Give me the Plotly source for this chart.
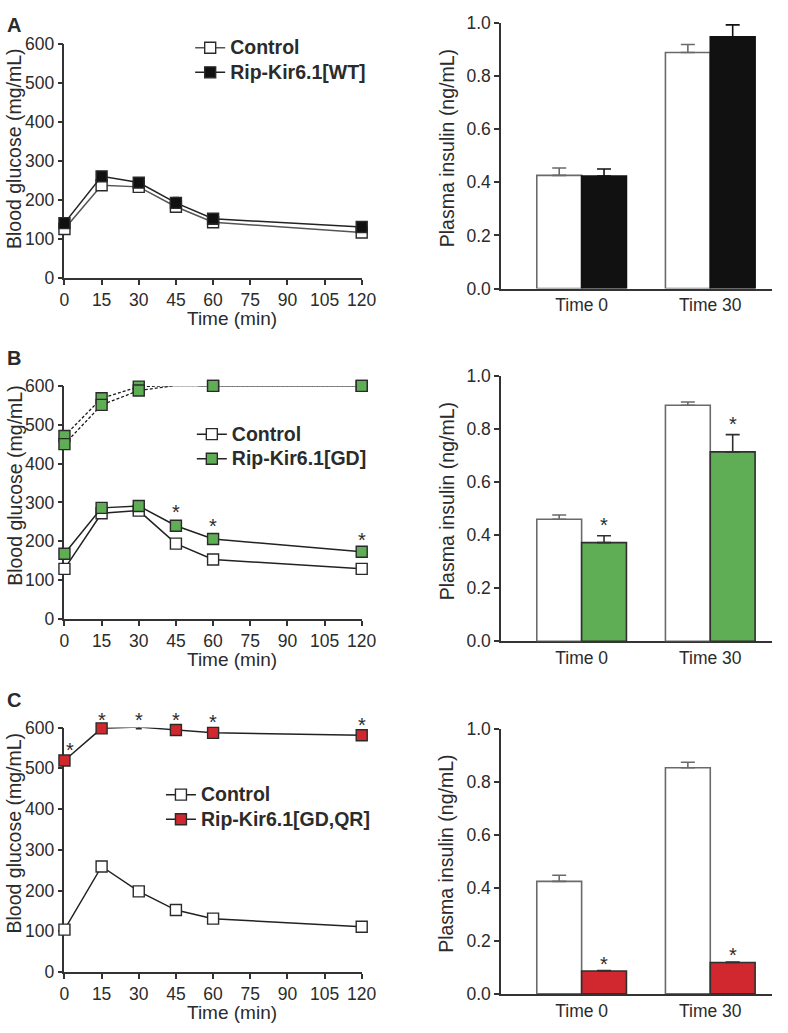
import plotly.graph_objects as go

W, H = 788, 1033
FONT = "Liberation Sans, Arial, sans-serif"
TXT = "#2b2b2b"

# ---------------- data ----------------
time_min = [0, 15, 30, 45, 60, 120]
time_ticks = [0, 15, 30, 45, 60, 75, 90, 105, 120]
bar_cats = ["Time 0", "Time 30"]

# Panel A
a_ctrl = [126, 238, 234, 183, 143, 117]
a_ctrl_err = [6, 7, 6, 6, 5, 5]
a_wt = [141, 261, 245, 193, 152, 131]
a_wt_err = [7, 12, 9, 14, 7, 7]
a_ins_ctrl = [0.426, 0.889]
a_ins_ctrl_err = [0.028, 0.030]
a_ins_wt = [0.424, 0.948]
a_ins_wt_err = [0.026, 0.045]

# Panel B
b_ctrl = [129, 272, 279, 194, 153, 129]
b_ctrl_err = [4, 4, 4, 4, 4, 4]
b_gd = [168, 286, 291, 240, 206, 173]
b_gd_err = [6, 5, 5, 9, 8, 5]
b_gd_hi1 = [471, 568, 598, 601, 600, 600]
b_gd_hi2 = [450, 551, 588, 601, 600, 600]
b_line_star_idx = [3, 4, 5]
b_ins_ctrl = [0.460, 0.890]
b_ins_ctrl_err = [0.016, 0.012]
b_ins_gd = [0.372, 0.714]
b_ins_gd_err = [0.026, 0.065]

# Panel C
c_ctrl = [104, 259, 198, 152, 131, 111]
c_ctrl_err = [3, 4, 4, 3, 3, 3]
c_qr = [519, 598, 601, 594, 587, 581]
c_qr_err = [6, 4, 4, 5, 6, 6]
c_line_star_idx = [0, 1, 2, 3, 4, 5]
c_ins_ctrl = [0.424, 0.852]
c_ins_ctrl_err = [0.023, 0.021]
c_ins_qr = [0.086, 0.118]
c_ins_qr_err = [0.002, 0.002]

GREEN = "#5fae55"
RED = "#d0282e"
BLACK = "#111111"

# --------------- layout helpers (pixels -> paper) ---------------
def px_x(p):
    return p / W

def px_y(p):
    return 1 - p / H

fig = go.Figure()

panels = [
    dict(letter="A", ly=2, line_px=(35, 273.3), bar_px=(13.3, 284.0),
         ytitle_line=141.5, ytitle_bar=141.5, xtitle=315),
    dict(letter="B", ly=342, line_px=(383.3, 621.0), bar_px=(373.3, 643.7),
         ytitle_line=485, ytitle_bar=501.5, xtitle=662),
    dict(letter="C", ly=690, line_px=(731.7, 981.0), bar_px=(732.7, 1003.3),
         ytitle_line=839.5, ytitle_bar=861, xtitle=1022),
]

LINE_X = (61, 366)
BAR_X = (509, 787)
Y_MAX = 600

layout = {}
annotations = []

for i, p in enumerate(panels):
    la = 2 * i + 1
    ba = 2 * i + 2
    lx = "xaxis" if la == 1 else f"xaxis{la}"
    ly_ = "yaxis" if la == 1 else f"yaxis{la}"
    bx = f"xaxis{ba}"
    by = f"yaxis{ba}"
    common_ax = dict(showline=True, linecolor="#333333", linewidth=1.5,
                     ticks="outside", ticklen=5, tickwidth=1.5, tickcolor="#333333",
                     showgrid=False, zeroline=False,
                     tickfont=dict(family=FONT, size=17.5, color=TXT),
                     layer="below traces")
    layout[lx] = dict(common_ax, domain=[px_x(LINE_X[0]), px_x(LINE_X[1])],
                      range=[0, 120], tickvals=time_ticks,
                      anchor="y" if la == 1 else f"y{la}")
    layout[ly_] = dict(common_ax, domain=[px_y(p["line_px"][1]), px_y(p["line_px"][0])],
                       range=[0, Y_MAX], tickvals=[0, 100, 200, 300, 400, 500, 600],
                       anchor="x" if la == 1 else f"x{la}")
    layout[bx] = dict(common_ax, domain=[px_x(BAR_X[0]), px_x(BAR_X[1])],
                      type="category", range=[-0.626, 1.48], ticks="",
                      anchor=f"y{ba}")
    layout[by] = dict(common_ax, domain=[px_y(p["bar_px"][1]), px_y(p["bar_px"][0])],
                      range=[0, 1.0], tickvals=[0, 0.2, 0.4, 0.6, 0.8, 1.0],
                      tickformat=".1f", anchor=f"x{ba}")

    annotations.append(dict(text=f"<b>{p['letter']}</b>", xref="paper", yref="paper",
                            x=px_x(0), y=px_y(p["ly"]), xanchor="left", yanchor="top",
                            showarrow=False, font=dict(family=FONT, size=20, color=TXT)))
    annotations.append(dict(text="Blood glucose (mg/mL)", xref="paper", yref="paper",
                            x=px_x(9.5), y=px_y(p["ytitle_line"]), textangle=-90,
                            xanchor="center", yanchor="middle", showarrow=False,
                            font=dict(family=FONT, size=19.5, color=TXT)))
    annotations.append(dict(text="Plasma insulin (ng/mL)", xref="paper", yref="paper",
                            x=px_x(453), y=px_y(p["ytitle_bar"]), textangle=-90,
                            xanchor="center", yanchor="middle", showarrow=False,
                            font=dict(family=FONT, size=19.5, color=TXT)))
    annotations.append(dict(text="Time (min)", xref="paper", yref="paper",
                            x=px_x(233), y=px_y(p["xtitle"]),
                            xanchor="center", yanchor="middle", showarrow=False,
                            font=dict(family=FONT, size=19, color=TXT)))


def line_trace(x, y, err, name, fill, ax, legend, showlegend=True, dash="solid",
               linecolor="#222222", lw=1.5):
    xa = "x" if ax == 1 else f"x{ax}"
    ya = "y" if ax == 1 else f"y{ax}"
    return go.Scatter(
        x=x, y=y, name=name, mode="lines+markers", xaxis=xa, yaxis=ya,
        legend=legend, showlegend=showlegend, cliponaxis=False,
        line=dict(color=linecolor, width=lw, dash=dash),
        marker=dict(symbol="square", size=11, color=fill,
                    line=dict(color="#2a2a2a", width=1.4)),
        error_y=None if err is None else dict(type="data", array=err, visible=True,
                                              color="#2a2a2a", thickness=1.3, width=3),
    )


def bar_trace(y, err, name, fill, outline, ax):
    return go.Bar(
        x=bar_cats, y=y, name=name, xaxis=f"x{ax}", yaxis=f"y{ax}", showlegend=False,
        marker=dict(color=fill, line=dict(color=outline, width=1.6)),
        error_y=dict(type="data", array=err, arrayminus=[0] * len(err), symmetric=False,
                     color=outline, thickness=1.6, width=7),
    )


def leg_name(s):
    return f"<b><span style='font-size:19.5px'>{s}</span></b>"

# Panel A
fig.add_trace(line_trace(time_min, a_ctrl, a_ctrl_err, leg_name("Control"), "white", 1, "legend",
                         linecolor="#555555"))
fig.add_trace(line_trace(time_min, a_wt, a_wt_err, leg_name("Rip-Kir6.1[WT]"), BLACK, 1, "legend"))
fig.add_trace(bar_trace(a_ins_ctrl, a_ins_ctrl_err, "Control", "white", "#6a6a6a", 2))
fig.add_trace(bar_trace(a_ins_wt, a_ins_wt_err, "Rip-Kir6.1[WT]", BLACK, "#111111", 2))

# Panel B
fig.add_trace(line_trace(time_min, b_gd_hi1, None, "GD high 1", GREEN, 3, "legend2",
                         showlegend=False, dash="3px,2px", linecolor="#1a1a1a", lw=1.3))
fig.add_trace(line_trace(time_min, b_gd_hi2, None, "GD high 2", GREEN, 3, "legend2",
                         showlegend=False, dash="3px,2px", linecolor="#1a1a1a", lw=1.3))
fig.add_trace(line_trace(time_min, b_ctrl, b_ctrl_err, leg_name("Control"), "white", 3, "legend2"))
fig.add_trace(line_trace(time_min, b_gd, b_gd_err, leg_name("Rip-Kir6.1[GD]"), GREEN, 3, "legend2"))
fig.add_trace(bar_trace(b_ins_ctrl, b_ins_ctrl_err, "Control", "white", "#6a6a6a", 4))
fig.add_trace(bar_trace(b_ins_gd, b_ins_gd_err, "Rip-Kir6.1[GD]", GREEN, "#2f2f2f", 4))

# Panel C
fig.add_trace(line_trace(time_min, c_ctrl, c_ctrl_err, leg_name("Control"), "white", 5, "legend3"))
fig.add_trace(line_trace(time_min, c_qr, c_qr_err, leg_name("Rip-Kir6.1[GD,QR]"), RED, 5, "legend3"))
fig.add_trace(bar_trace(c_ins_ctrl, c_ins_ctrl_err, "Control", "white", "#6a6a6a", 6))
fig.add_trace(bar_trace(c_ins_qr, c_ins_qr_err, "Rip-Kir6.1[GD,QR]", RED, "#2f2f2f", 6))

# significance stars (anchored inside the axis range so they are not hidden)
STAR = dict(family=FONT, size=20, color=TXT)
for idx in b_line_star_idx:
    annotations.append(dict(text="*", x=time_min[idx], y=min(b_gd[idx] + b_gd_err[idx], Y_MAX),
                            xref="x3", yref="y3", showarrow=False, yanchor="bottom",
                            yshift=-3, font=STAR))
for idx in c_line_star_idx:
    annotations.append(dict(text="*", x=time_min[idx], y=min(c_qr[idx] + c_qr_err[idx], Y_MAX),
                            xref="x5", yref="y5", showarrow=False, yanchor="bottom",
                            yshift=-5, xshift=6 if idx == 0 else 0, font=STAR))
for j in range(2):
    annotations.append(dict(text="*", x=j + 0.175, y=b_ins_gd[j] + b_ins_gd_err[j],
                            xref="x4", yref="y4", showarrow=False, yanchor="bottom",
                            yshift=-2, font=STAR))
    annotations.append(dict(text="*", x=j + 0.175, y=c_ins_qr[j] + c_ins_qr_err[j],
                            xref="x6", yref="y6", showarrow=False, yanchor="bottom",
                            yshift=-6, font=STAR))

LEG = dict(font=dict(family=FONT, size=16.6, color=TXT), bgcolor="rgba(0,0,0,0)",
           xanchor="left", yanchor="top", tracegroupgap=0, itemwidth=30,
           traceorder="normal")
layout["legend"] = dict(LEG, x=px_x(190), y=px_y(20.9))
layout["legend2"] = dict(LEG, x=px_x(191.7), y=px_y(414.9))
layout["legend3"] = dict(LEG, x=px_x(160), y=px_y(782.5))

fig.update_layout(
    width=W, height=H, margin=dict(l=0, r=0, t=0, b=0),
    paper_bgcolor="white", plot_bgcolor="white",
    barmode="group", bargap=0.303, bargroupgap=0,
    annotations=annotations, **layout,
)

POST = (
    "document.documentElement.style.margin='0';"
    "document.documentElement.style.padding='0';"
    "document.documentElement.style.overflow='hidden';"
    "document.body.style.margin='0';"
    "document.body.style.padding='0';"
    "document.body.style.overflow='hidden';"
)

fig.write_html(
    "out.html",
    config={"responsive": False, "displayModeBar": False},
    post_script=POST,
)
